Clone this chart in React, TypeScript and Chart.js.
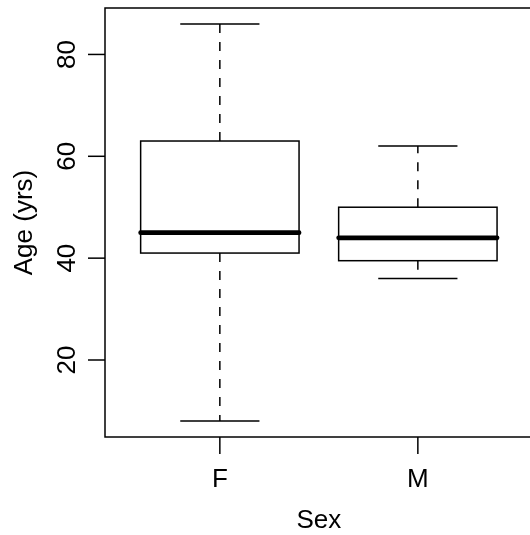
import React, { useEffect, useRef } from "react";
import { Chart, registerables } from "chart.js";

Chart.register(...registerables);

const categories = ["F", "M"];
const whiskerLow = [8, 36];
const q1 = [41, 39.5];
const median = [45, 44];
const q3 = [63, 50];
const whiskerHigh = [86, 62];
const yTicks = [20, 40, 60, 80];
const xTitle = "Sex";
const yTitle = "Age (yrs)";

const FONT = '26px "Liberation Sans", Arial, sans-serif';

const boxPlugin = {
  id: "rbox",
  afterDatasetsDraw(chart: any) {
    const { ctx, chartArea, scales } = chart;
    const xs = scales.x;
    const ys = scales.y;
    ctx.save();
    ctx.strokeStyle = "#000";
    categories.forEach((_, i) => {
      const cx = xs.getPixelForValue(i + 1);
      const hw = xs.getPixelForValue(i + 1.4) - cx;
      const capHw = hw / 2;
      // whiskers (dashed)
      ctx.lineWidth = 1.5;
      ctx.setLineDash([9, 9]);
      ctx.lineCap = "butt";
      ctx.beginPath();
      ctx.moveTo(cx, ys.getPixelForValue(q3[i]));
      ctx.lineTo(cx, ys.getPixelForValue(whiskerHigh[i]));
      ctx.moveTo(cx, ys.getPixelForValue(q1[i]));
      ctx.lineTo(cx, ys.getPixelForValue(whiskerLow[i]));
      ctx.stroke();
      ctx.setLineDash([]);
      // caps
      ctx.beginPath();
      const yh = ys.getPixelForValue(whiskerHigh[i]);
      const yl = ys.getPixelForValue(whiskerLow[i]);
      ctx.moveTo(cx - capHw, yh);
      ctx.lineTo(cx + capHw, yh);
      ctx.moveTo(cx - capHw, yl);
      ctx.lineTo(cx + capHw, yl);
      ctx.stroke();
      // box
      const yt = ys.getPixelForValue(q3[i]);
      const yb = ys.getPixelForValue(q1[i]);
      ctx.fillStyle = "#fff";
      ctx.fillRect(cx - hw, yt, 2 * hw, yb - yt);
      ctx.strokeRect(cx - hw, yt, 2 * hw, yb - yt);
      // median
      const ym = ys.getPixelForValue(median[i]);
      ctx.lineWidth = 4.7;
      ctx.lineCap = "round";
      ctx.beginPath();
      ctx.moveTo(cx - hw, ym);
      ctx.lineTo(cx + hw, ym);
      ctx.stroke();
    });
    ctx.restore();
  },
  afterDraw(chart: any) {
    const { ctx, chartArea, scales } = chart;
    const xs = scales.x;
    const ys = scales.y;
    const { left, top, right, bottom } = chartArea;
    ctx.save();
    ctx.strokeStyle = "#000";
    ctx.fillStyle = "#000";
    ctx.lineWidth = 1.5;
    ctx.lineCap = "butt";
    ctx.setLineDash([]);
    // frame (right edge falls outside the canvas)
    ctx.strokeRect(left, top, right + 10 - left, bottom - top);
    ctx.font = FONT;
    // y ticks
    yTicks.forEach((v) => {
      const y = ys.getPixelForValue(v);
      ctx.beginPath();
      ctx.moveTo(left - 17, y);
      ctx.lineTo(left, y);
      ctx.stroke();
      ctx.save();
      ctx.translate(left - 30, y);
      ctx.rotate(-Math.PI / 2);
      ctx.textAlign = "center";
      ctx.textBaseline = "alphabetic";
      ctx.fillText(String(v), 0, 0);
      ctx.restore();
    });
    // x ticks
    categories.forEach((c, i) => {
      const x = xs.getPixelForValue(i + 1);
      ctx.beginPath();
      ctx.moveTo(x, bottom);
      ctx.lineTo(x, bottom + 17);
      ctx.stroke();
      ctx.textAlign = "center";
      ctx.textBaseline = "alphabetic";
      ctx.fillText(c, x, bottom + 50);
    });
    // titles
    const midX = xs.getPixelForValue(1.5);
    ctx.textAlign = "center";
    ctx.fillText(xTitle, midX, bottom + 91);
    const midY = (top + bottom) / 2;
    ctx.save();
    ctx.translate(left - 73, midY);
    ctx.rotate(-Math.PI / 2);
    ctx.textAlign = "center";
    ctx.fillText(yTitle, 0, 0);
    ctx.restore();
    ctx.restore();
  },
};

export default function App() {
  const ref = useRef<HTMLCanvasElement | null>(null);
  useEffect(() => {
    document.body.style.margin = "0";
    const canvas = ref.current!;
    const chart = new Chart(canvas, {
      type: "scatter",
      data: {
        datasets: [
          {
            data: categories.map((_, i) => ({ x: i + 1, y: median[i] })),
            pointRadius: 0,
            showLine: false,
          },
        ],
      },
      options: {
        animation: false,
        responsive: false,
        devicePixelRatio: 1,
        layout: { padding: { left: 105, top: 8, right: 0, bottom: 98 } },
        plugins: { legend: { display: false }, tooltip: { enabled: false } },
        scales: {
          x: { type: "linear", display: false, min: 0.42, max: 0.42 + 2.16 * (425 / 427.7) },
          y: { type: "linear", display: false, min: 4.88, max: 89.12 },
        },
      },
      plugins: [boxPlugin],
    });
    return () => chart.destroy();
  }, []);
  return (
    <div style={{ position: "fixed", left: 0, top: 0, width: 530, height: 535, background: "#fff" }}>
      <canvas ref={ref} width={530} height={535} style={{ width: 530, height: 535, display: "block" }} />
    </div>
  );
}
